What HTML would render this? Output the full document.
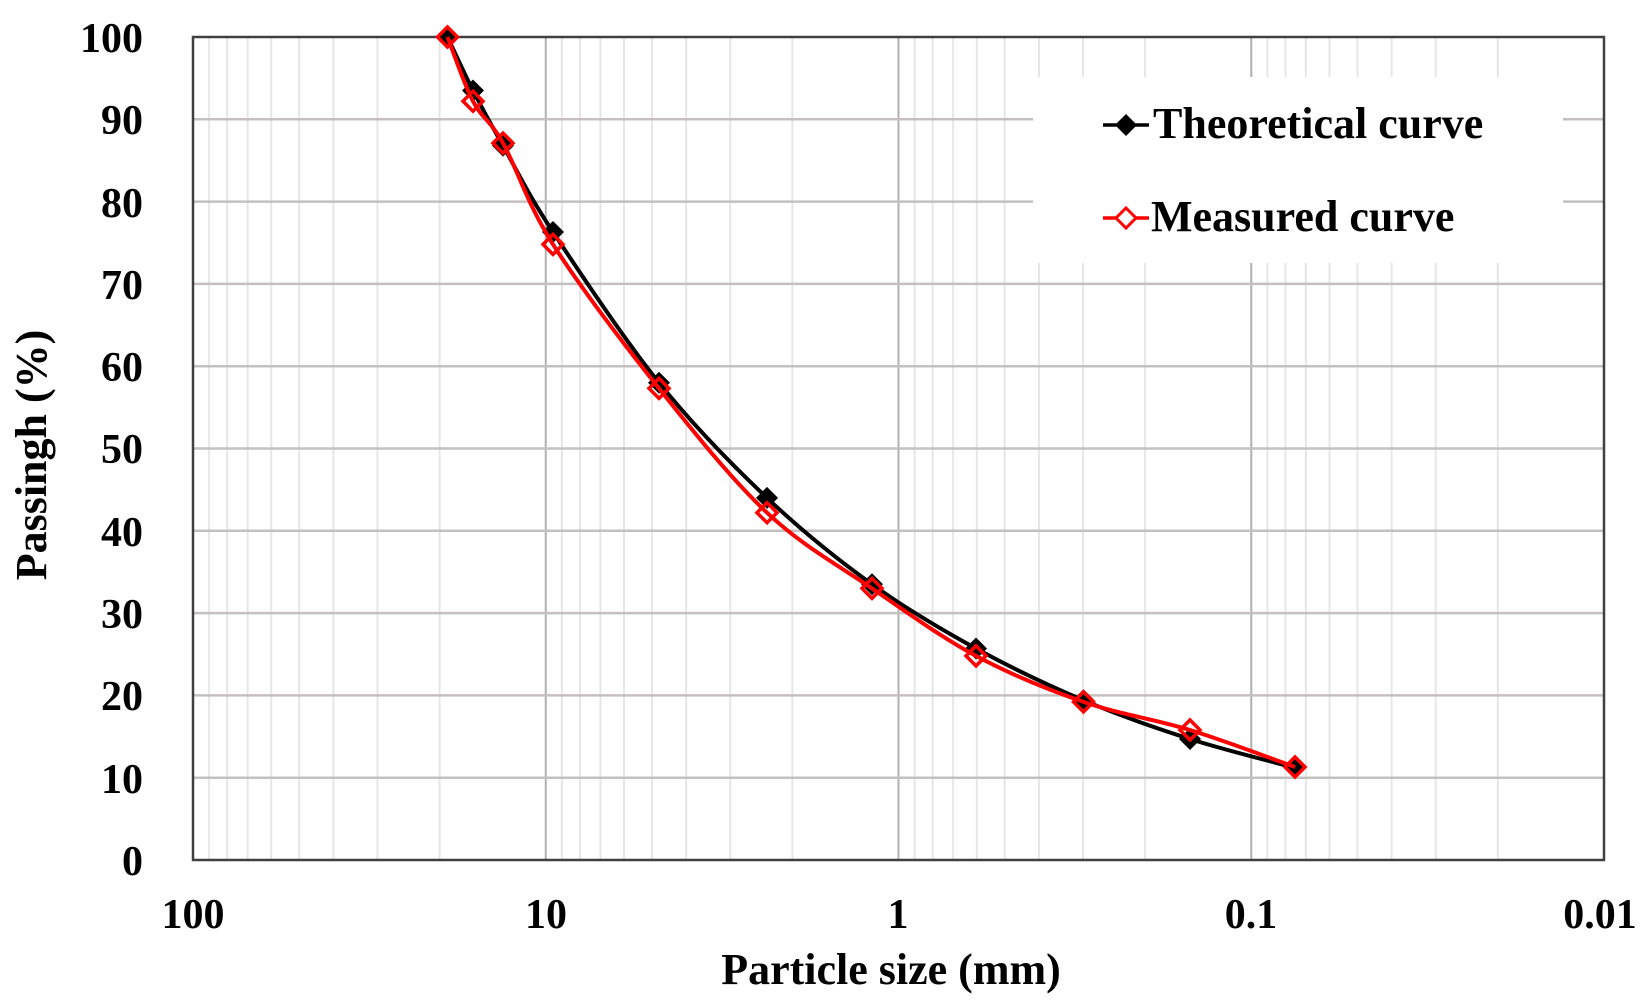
<!DOCTYPE html>
<html><head><meta charset="utf-8"><style>
html,body{margin:0;padding:0;background:#fff;}
svg{display:block;font-family:"Liberation Serif",serif;font-weight:bold;}
</style></head><body>
<svg id="s" width="1651" height="1008" viewBox="0 0 1651 1008" xmlns="http://www.w3.org/2000/svg">
<g id="grid"></g>
<rect x="1033" y="77" width="530" height="186" fill="#fff"/>
<rect x="193" y="37" width="1411" height="823" fill="none" stroke="#404040" stroke-width="2.5"/>
<g id="series"></g>
<g font-size="42" fill="#000">
<text x="143" y="52" text-anchor="end">100</text>
<text x="143" y="134" text-anchor="end">90</text>
<text x="143" y="217" text-anchor="end">80</text>
<text x="143" y="299" text-anchor="end">70</text>
<text x="143" y="381" text-anchor="end">60</text>
<text x="143" y="463" text-anchor="end">50</text>
<text x="143" y="546" text-anchor="end">40</text>
<text x="143" y="628" text-anchor="end">30</text>
<text x="143" y="710" text-anchor="end">20</text>
<text x="143" y="793" text-anchor="end">10</text>
<text x="143" y="875" text-anchor="end">0</text>
<text x="193" y="928" text-anchor="middle">100</text>
<text x="546" y="928" text-anchor="middle">10</text>
<text x="898" y="928" text-anchor="middle">1</text>
<text x="1251" y="928" text-anchor="middle">0.1</text>
<text x="1600" y="928" text-anchor="middle">0.01</text>
<text x="891" y="984" text-anchor="middle" font-size="44">Particle size (mm)</text>
<text transform="translate(46,455) rotate(-90)" text-anchor="middle" font-size="44">Passingh (%)</text>
<text x="1153" y="138" font-size="44">Theoretical curve</text>
<text x="1151" y="231" font-size="44">Measured curve</text>
</g>
<line x1="1103" y1="125" x2="1149" y2="125" stroke="#000" stroke-width="3.5"/>
<path d="M1126 114 L1137 125 L1126 136 L1115 125Z" fill="#000"/>
<line x1="1103" y1="218" x2="1149" y2="218" stroke="#f00" stroke-width="3.5"/>
<path d="M1126 208 L1136 218 L1126 228 L1116 218Z" fill="#fff" stroke="#f00" stroke-width="3"/>
</svg>
<script>
var NS="http://www.w3.org/2000/svg";
function el(p,t,a){var e=document.createElementNS(NS,t);for(var k in a)e.setAttribute(k,a[k]);p.appendChild(e);return e;}
var g=document.getElementById('grid');
var L=193,R=1604,T=37,B=860,D=352.75;
var starts=[193,545.75,898.5,1251.25];
starts.forEach(function(s){for(var k=2;k<=9;k++){var x=s+(1-Math.log10(k))*D;el(g,'line',{x1:x,y1:T,x2:x,y2:B,stroke:'#e6e6e6','stroke-width':2});}});
[545.75,898.5,1251.25].forEach(function(x){el(g,'line',{x1:x,y1:T,x2:x,y2:B,stroke:'#b0b0b0','stroke-width':2});});
for(var v=10;v<100;v+=10){var y=B-8.23*v;el(g,'line',{x1:L,y1:y,x2:R,y2:y,stroke:'#c4c0c0','stroke-width':2.5});}
var xs=[447.5,473,503,553,659,767,872,976,1083.5,1190,1295];
var th=[37,90.5,145.6,232,382.7,497.9,584.3,648.5,700.3,739,767.8];
var me=[37,101.2,143.1,244.4,388.4,512.7,588.4,655.9,701.9,730,767];
function path(ys){var d='M'+xs[0]+' '+ys[0];for(var i=0;i<xs.length-1;i++){var p0=i>0?i-1:i,p3=i+2<xs.length?i+2:i+1;
var c1x=xs[i]+(xs[i+1]-xs[p0])/6,c1y=ys[i]+(ys[i+1]-ys[p0])/6,c2x=xs[i+1]-(xs[p3]-xs[i])/6,c2y=ys[i+1]-(ys[p3]-ys[i])/6;
d+=' C'+c1x+' '+c1y+' '+c2x+' '+c2y+' '+xs[i+1]+' '+ys[i+1];}return d;}
var s=document.getElementById('series');
el(s,'path',{d:path(th),fill:'none',stroke:'#000','stroke-width':4});
xs.forEach(function(x,i){var y=th[i];el(s,'path',{d:'M'+x+' '+(y-11)+' L'+(x+11)+' '+y+' L'+x+' '+(y+11)+' L'+(x-11)+' '+y+'Z',fill:'#000'});});
el(s,'path',{d:path(me),fill:'none',stroke:'#f00','stroke-width':4});
xs.forEach(function(x,i){var y=me[i];el(s,'path',{d:'M'+x+' '+(y-10)+' L'+(x+10)+' '+y+' L'+x+' '+(y+10)+' L'+(x-10)+' '+y+'Z',fill:'none',stroke:'#f00','stroke-width':3.5});});
</script>
</body></html>
